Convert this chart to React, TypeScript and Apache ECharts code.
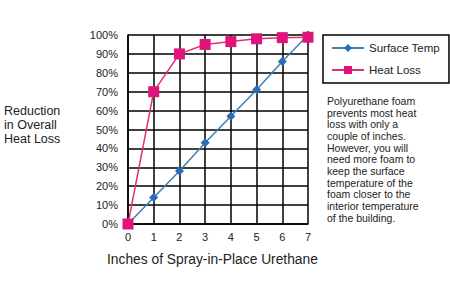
import React, { useEffect, useRef } from "react";
import * as echarts from "echarts";

const inches = [0, 1, 2, 3, 4, 5, 6, 7];
const surfaceTemp = [0, 14, 28, 43, 57, 71, 86, 100];
const heatLoss = [0, 70, 90, 95, 96.5, 98, 98.6, 98.8];
const noteLines = [
  "Polyurethane foam",
  "prevents most heat",
  "loss with only a",
  "couple of inches.",
  "However, you will",
  "need more foam to",
  "keep the surface",
  "temperature of the",
  "foam closer to the",
  "interior temperature",
  "of the building.",
];
const yTitleLines = ["Reduction", "in Overall", "Heat Loss"];

const FONT = "'Liberation Sans', Arial, sans-serif";

export default function App() {
  const ref = useRef<HTMLDivElement>(null);
  useEffect(() => {
    const chart = echarts.init(ref.current!, null, { renderer: "svg" });
    const lineData = (arr: number[]) => inches.map((x, i) => [x, arr[i]]);
    chart.setOption({
      animation: false,
      backgroundColor: "#fff",
      textStyle: { fontFamily: FONT },
      grid: { left: 128, right: 142, top: 35, bottom: 60 },
      xAxis: {
        type: "value",
        min: 0,
        max: 7,
        interval: 1,
        axisLine: { lineStyle: { color: "#000", width: 1.5 } },
        axisTick: { show: false },
        axisLabel: { color: "#222", fontSize: 11, margin: 7, fontFamily: FONT },
        splitLine: { show: true, lineStyle: { color: "#000", width: 1.5 } },
      },
      yAxis: {
        type: "value",
        min: 0,
        max: 100,
        interval: 10,
        axisLine: { show: true, lineStyle: { color: "#000", width: 1.5 } },
        axisTick: { show: false },
        axisLabel: { color: "#222", fontSize: 11, margin: 10, formatter: "{value}%", fontFamily: FONT },
        splitLine: { show: true, lineStyle: { color: "#000", width: 1.5 } },
      },
      legend: {
        orient: "vertical",
        left: 323,
        top: 35,
        width: 112,
        padding: [7, 9, 7, 8],
        itemWidth: 32,
        itemHeight: 10,
        itemGap: 10,
        borderColor: "#000",
        borderWidth: 1.5,
        textStyle: { fontSize: 11.5, color: "#222", fontFamily: FONT },
        data: ["Surface Temp", "Heat Loss"],
      },
      series: [
        {
          name: "Surface Temp",
          type: "line",
          data: lineData(surfaceTemp),
          color: "#2e6db4",
          symbol: "diamond",
          symbolSize: 9,
          lineStyle: { color: "#3f7fb0", width: 1.5 },
          itemStyle: { color: "#2a6cb8" },
          z: 3,
        },
        {
          name: "Heat Loss",
          type: "line",
          data: lineData(heatLoss),
          color: "#e0157a",
          symbol: "rect",
          symbolSize: 11,
          lineStyle: { color: "#e0306f", width: 1.5 },
          itemStyle: { color: "#e0157a" },
          z: 4,
        },
      ],
      graphic: [
        {
          type: "text",
          left: 327,
          top: 95,
          style: { text: noteLines.join("\n"), fontSize: 10.5, lineHeight: 11.7, fill: "#222", fontFamily: FONT },
        },
        {
          type: "text",
          left: 4,
          top: 104,
          style: { text: yTitleLines.join("\n"), fontSize: 12.5, lineHeight: 14, fill: "#222", fontFamily: FONT },
        },
        {
          type: "text",
          left: 107,
          top: 252,
          style: { text: "Inches of Spray-in-Place Urethane", fontSize: 13.8, fill: "#222", fontFamily: FONT },
        },
      ],
    });
    return () => chart.dispose();
  }, []);
  return <div ref={ref} style={{ width: 450, height: 284, position: "absolute", left: 0, top: 0 }} />;
}
